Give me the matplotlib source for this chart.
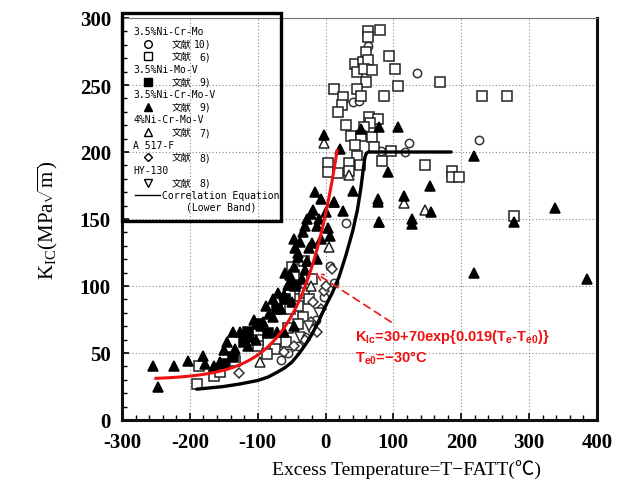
import numpy as np
import matplotlib
matplotlib.use("Agg")
import matplotlib.pyplot as plt
from matplotlib.patches import Rectangle

plt.rcParams['mathtext.fontset'] = 'custom'
plt.rcParams['mathtext.rm'] = 'Liberation Serif'
plt.rcParams['mathtext.bf'] = 'Liberation Sans:bold'
plt.rcParams['axes.unicode_minus'] = False

# ---------------- data ----------------
# 3.5%Ni-Cr-Mo, ref 10 (open circles)
circ_x = [62, 134, 41, 49, 123, 117, 81, 226, 30, 7, -20, -30, -41, -56, -3, 12, -14, -66]
circ_y = [279, 259, 237, 238, 207, 200, 201, 209, 147, 115, 68, 62, 55, 50, 92, 102, 75, 45]
# 3.5%Ni-Cr-Mo, ref 6 (open squares)
sq_x = [62, 80, 62, 59, 43, 55, 62, 47, 56, 68, 93, 102, 59, 12, 47, 106, 86, 168, 25, 52,
        24, 19, 30, 64, 77, 65, 56, 38, 52, 68, 44, 71, 47, 3, 35, 50, 3, 19, 35, 83, 97,
        146, 186, 186, 196, 230, 267, 278,
        -189, -186, -165, -155, -100, -100, -49, -47, -44, -52, -40, -52, -34, -40, -55,
        -59, -74, -86, -32, -32, -133, -20, -25]
sq_y = [290, 291, 286, 275, 266, 267, 269, 260, 262, 261, 272, 262, 252, 247, 247, 249, 242,
        252, 241, 242, 235, 230, 220, 226, 225, 222, 219, 212, 212, 211, 205, 204, 197, 192,
        192, 190, 185, 184, 186, 193, 201, 190, 186, 181, 181, 242, 242, 152,
        27, 40, 33, 36, 60, 55, 114, 108, 98, 93, 85, 83, 77, 72, 69,
        58, 53, 49, 119, 95, 44, 105, 90]
# 3.5%Ni-Mo-V, ref 9 (filled squares)
fsq_x = [-137, -114, -150, -100, -71, -85, -60, -45, -120]
fsq_y = [47, 66, 42, 72, 83, 65, 90, 100, 58]
# 3.5%Ni-Cr-Mo-V, ref 9 (filled triangles)
tri_x = [-254, -247, -224, -202, -180, -177, -165, -155, -150, -137, -126, -145, -133, -115,
         -103, -106, -92, -84, -77, -78, -66, -62, -56, -52, -47, -41, -37, -34, -30, -27,
         -22, -18, -7, 12, 25, -47, -40, -27, -25, -12, -7, 3, 7, -12, 77, 78, -71, -62,
         -47, 106, 78, 52, 21, 92, 77, 115, 154, 78, 127, 127, 155, 219, 278, 338, 219,
         385, 40, 12, -15, -3, -60, -50, -35, -20, -10, -70, -88, -95, -110, -30, -45, 0]
tri_y = [40, 25, 40, 44, 48, 42, 40, 43, 52, 66, 66, 58, 53, 55, 60, 75, 73, 79, 77, 90, 83,
         93, 101, 108, 114, 125, 133, 140, 145, 150, 154, 157, 165, 163, 156, 135, 122, 119,
         128, 120, 135, 143, 137, 145, 163, 148, 66, 66, 70, 219, 219, 217, 202, 185, 165,
         167, 175, 148, 150, 146, 155, 197, 148, 158, 110, 105, 171, 163, 170, 213, 110, 88,
         105, 132, 150, 95, 85, 70, 62, 112, 128, 155]
# 4%Ni-Cr-Mo-V, ref 7 (open triangles)
otri_x = [-3, 115, 146, 5, 34, -22, -96]
otri_y = [207, 162, 157, 129, 183, 100, 43]
# A517-F, ref 8 (open diamonds)
dia_x = [9, -3, -7, -12, -22, -47, -62, -128, -18, 0, -30]
dia_y = [113, 96, 83, 66, 73, 55, 51, 35, 88, 100, 60]
# HY-130, ref 8 (open inverted triangles)
itri_x = [-38, -25, -10]
itri_y = [62, 70, 80]
# Correlation equation (lower band)
band_x = [-190, -170, -150, -125, -100, -85, -70, -60, -50, -40, -30, -20, -10, 0, 10, 20,
          30, 40, 47, 52, 56, 58, 60, 63, 185]
band_y = [23, 24, 25, 27, 29.5, 32, 36, 39, 43, 49, 56, 64, 74, 85, 95, 107, 123, 141, 157,
          173, 189, 196, 199, 200, 200]
# Red fit curve: K_Ic = 30 + 70 exp{0.019 (Te - Te0)}, Te0 = -30
red_A, red_B, red_C, red_T0 = 30, 70, 0.019, -30
red_range = (-250, 17)

xticks = [-300, -200, -100, 0, 100, 200, 300, 400]
yticks = [0, 50, 100, 150, 200, 250, 300]

# ---------------- figure ----------------
fig = plt.figure(figsize=(6.18, 4.89), dpi=100)
ax = fig.add_axes([122/618, 1-421/489, 475/618, 402/489])
ax.set_xlim(-300, 400)
ax.set_ylim(0, 300)

ax.grid(True, which='major', color='#888888', linestyle=(0, (1, 2)), linewidth=0.8)
ax.set_axisbelow(True)

mk = dict(linestyle='none', markeredgewidth=1.1)
ax.plot(circ_x, circ_y, marker='o', ms=6, mfc='white', mec='#333333', **mk)
ax.plot(sq_x, sq_y, marker='s', ms=6.5, mfc='white', mec='#222222', **mk)
ax.plot(otri_x, otri_y, marker='^', ms=7, mfc='white', mec='#222222', **mk)
ax.plot(dia_x, dia_y, marker='D', ms=5, mfc='white', mec='#333333', **mk)
ax.plot(itri_x, itri_y, marker='v', ms=6.5, mfc='white', mec='#333333', **mk)
ax.plot(fsq_x, fsq_y, marker='s', ms=6.5, mfc='black', mec='black', **mk)
ax.plot(tri_x, tri_y, marker='^', ms=7.5, mfc='black', mec='black', **mk)

ax.plot(band_x, band_y, color='black', lw=2.4, solid_capstyle='round', solid_joinstyle='round')

tr = np.linspace(red_range[0], red_range[1], 200)
ax.plot(tr, red_A + red_B*np.exp(red_C*(tr - red_T0)), color='#ee1111', lw=2.2)

ax.annotate('', xy=(-19, 111), xytext=(100, 72),
            arrowprops=dict(arrowstyle='->', color='#ee2222', lw=1.3, linestyle=(0, (4, 3)),
                            mutation_scale=12))
ax.text(44, 63, r'K$_{\mathbf{Ic}}$=30+70exp{0.019(T$_{\mathbf{e}}$-T$_{\mathbf{e0}}$)}',
        color='#ee1111', fontsize=10.5, fontweight='bold', family='Liberation Sans', va='center')
ax.text(44, 47, r'T$_{\mathbf{e0}}$=−30°C', color='#ee1111', fontsize=10.5,
        fontweight='bold', family='Liberation Sans', va='center')

# spines / ticks
for s in ['left', 'right', 'bottom']:
    ax.spines[s].set_linewidth(2.2)
    ax.spines[s].set_color('#111111')
ax.spines['top'].set_linewidth(0.8)
ax.spines['top'].set_color('#777777')
ax.set_xticks(xticks)
ax.set_yticks(yticks)
ax.set_xticks(np.arange(-300, 401, 20), minor=True)
ax.set_yticks(np.arange(0, 301, 10), minor=True)
ax.tick_params(which='both', direction='in', top=False, right=False)
ax.tick_params(which='major', length=5, width=1.2)
ax.tick_params(which='minor', length=3.5, width=1.0)
ax.tick_params(axis='x', pad=9)
ax.tick_params(axis='y', pad=8)
for lab in ax.get_xticklabels() + ax.get_yticklabels():
    lab.set_fontfamily('Liberation Serif')
    lab.set_fontweight('bold')
    lab.set_fontsize(15)

ax.set_ylabel(r'K$_{\rm IC}$(MPa$\sqrt{\rm m}$)', family='Liberation Serif', fontsize=15,
              labelpad=14)
fig.text(406/618, 1-470/489, 'Excess Temperature=T−FATT(℃)',
         family=['Liberation Serif', 'Noto Sans CJK JP'], fontsize=14, ha='center', va='center')

# legend (drawn as a boxed note)
def fx(px):
    return (px-122)/475
def fy(py):
    return (421-py)/401

ax.add_patch(Rectangle((0, fy(222)), fx(281), fy(15)-fy(222), transform=ax.transAxes,
                       fill=False, lw=2.4, ec='black', clip_on=False, zorder=5))
lf = dict(family=['DejaVu Sans Mono', 'Noto Sans CJK JP'], fontsize=7, transform=ax.transAxes,
          va='center', zorder=6)
rows = [('h', '3.5%Ni-Cr-Mo', None, None),
        ('m', 'o', 'white', '10)'),
        ('m', 's', 'white', '6)'),
        ('h', '3.5%Ni-Mo-V', None, None),
        ('m', 's', 'black', '9)'),
        ('h', '3.5%Ni-Cr-Mo-V', None, None),
        ('m', '^', 'black', '9)'),
        ('h', '4%Ni-Cr-Mo-V', None, None),
        ('m', '^', 'white', '7)'),
        ('h', 'A 517-F', None, None),
        ('m', 'D', 'white', '8)'),
        ('h', 'HY-130', None, None),
        ('m', 'v', 'white', '8)')]
py = 33
for kind, a, fc, ref in rows:
    if kind == 'h':
        ax.text(fx(133), fy(py), a, **lf)
    else:
        ax.plot([fx(148)], [fy(py)], marker=a, ms=5.5 if a != 'D' else 4.5, mfc=fc, mec='black',
                mew=1.0, transform=ax.transAxes, clip_on=False, zorder=6)
        ax.text(fx(172), fy(py), '文献', **lf)
        ax.text(fx(211), fy(py), ref, ha='right', **lf)
    py += 12.6
ax.plot([fx(135), fx(160)], [fy(py), fy(py)], color='black', lw=1.0, transform=ax.transAxes,
        clip_on=False, zorder=6)
ax.text(fx(162), fy(py), 'Correlation Equation', **lf)
ax.text(fx(186), fy(py + 11.5), '(Lower Band)', **lf)

fig.savefig('out.png', dpi=100)
